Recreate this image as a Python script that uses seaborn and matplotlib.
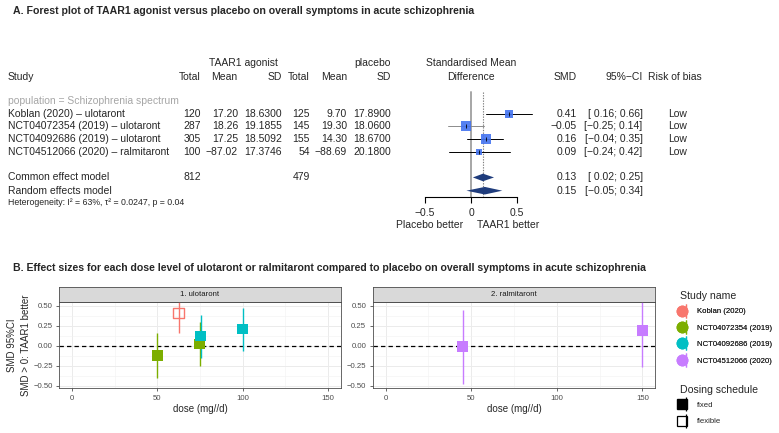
import numpy as np
import pandas as pd
import seaborn as sns
import matplotlib.pyplot as plt
import matplotlib.transforms as mtransforms
from matplotlib.lines import Line2D
from matplotlib.legend_handler import HandlerTuple

# ---------------- panel A: meta-analysis table ----------------
studies = ["Koblan (2020) \u2013 ulotaront", "NCT04072354 (2019) \u2013 ulotaront",
           "NCT04092686 (2019) \u2013 ulotaront", "NCT04512066 (2020) \u2013 ralmitaront"]
agonist_n = [120, 287, 305, 100]
agonist_mean = [17.20, 18.26, 17.25, -87.02]
agonist_sd = [18.6300, 19.1855, 18.5092, 17.3746]
placebo_n = [125, 145, 155, 54]
placebo_mean = [9.70, 19.30, 14.30, -88.69]
placebo_sd = [17.8900, 18.0600, 18.6700, 20.1800]
smd = [0.41, -0.05, 0.16, 0.09]
smd_lo = [0.16, -0.25, -0.04, -0.24]
smd_hi = [0.66, 0.14, 0.35, 0.42]
weight = [19.0, 33.5, 35.6, 11.9]
risk = ["Low", "Low", "Low", "Low"]

models = ["Common effect model", "Random effects model"]
model_smd = [0.13, 0.15]
model_lo = [0.02, -0.05]
model_hi = [0.25, 0.34]
total_agonist = 812
total_placebo = 479
heterogeneity = "Heterogeneity: I\u00b2 = 63%, \u03c4\u00b2 = 0.0247, p = 0.04"

# ---------------- panel B: dose levels ----------------
b_study = ["Koblan (2020)", "NCT04072354 (2019)", "NCT04072354 (2019)",
           "NCT04092686 (2019)", "NCT04092686 (2019)",
           "NCT04512066 (2020)", "NCT04512066 (2020)"]
b_drug = ["1. ulotaront"] * 5 + ["2. ralmitaront"] * 2
b_dose = [62.5, 50, 75, 75, 100, 45, 150]
b_smd = [0.41, -0.12, 0.02, 0.12, 0.21, -0.01, 0.19]
b_lo = [0.16, -0.40, -0.25, -0.15, -0.06, -0.48, -0.27]
b_hi = [0.66, 0.16, 0.30, 0.39, 0.48, 0.45, 0.65]
b_schedule = ["flexible", "fixed", "fixed", "fixed", "fixed", "fixed", "fixed"]

study_names = ["Koblan (2020)", "NCT04072354 (2019)", "NCT04092686 (2019)", "NCT04512066 (2020)"]
palette = dict(zip(study_names, ["#F8766D", "#7CAE00", "#00BFC4", "#C77CFF"]))
schedules = ["fixed", "flexible"]

W, H = 779, 433


def fig_box(x0, y0, x1, y1):
    # pixel box (top-left origin) -> figure rect
    return [x0 / W, 1 - y1 / H, (x1 - x0) / W, (y1 - y0) / H]


def fmt(v, spec):
    return format(v, spec).replace("-", "\u2212")


sns.set_style("white")
plt.rcParams['font.family'] = ['Liberation Sans', 'DejaVu Sans']

fig = plt.figure(figsize=(W / 100, H / 100), dpi=100)

# ================= A. forest plot =================
FS = 7.5
fig.text(13 / W, 1 - 11 / H, "A. Forest plot of TAAR1 agonist versus placebo on overall symptoms in acute schizophrenia",
         fontsize=7.6, fontweight='bold', va='center', ha='left')

ax_f = fig.add_axes(fig_box(400, 57, 545, 197))
ax_f.set_xlim(-0.772, 0.804)
ax_f.set_ylim(6.6, -4.5)
ax_f.patch.set_alpha(0)
for s in ['top', 'left', 'right']:
    ax_f.spines[s].set_visible(False)
ax_f.spines['bottom'].set_bounds(-0.5, 0.5)
ax_f.spines['bottom'].set_linewidth(0.8)
ax_f.spines['bottom'].set_color('black')
ax_f.set_yticks([])
ax_f.set_xticks([-0.5, 0, 0.5])
ax_f.set_xticklabels(["\u22120.5", "0", "0.5"])
ax_f.tick_params(axis='x', bottom=True, length=4, width=0.8, pad=4, labelsize=FS, color='black')

rows = np.arange(len(studies))
y_common, y_random = 5.05, 6.1

# reference lines
ax_f.plot([0, 0], [-1.7, 6.6], color='#A6A6A6', lw=1.4, zorder=1, clip_on=False)
ax_f.plot([model_smd[0]] * 2, [-1.7, 6.6], color='#7F7F7F', lw=0.8, ls=(0, (1.2, 1.2)), zorder=1, clip_on=False)

# CI lines
ci_colors = ['black', '#8C8C8C', 'black', 'black']
for r, lo, hi, c in zip(rows, smd_lo, smd_hi, ci_colors):
    ax_f.plot([lo, hi], [r, r], color=c, lw=0.7, zorder=2, clip_on=False)

sizes = [(1.75 * np.sqrt(w) * 0.72) ** 2 for w in weight]
ax_f.scatter(smd, rows, s=sizes, marker='s', color='#4473F0', edgecolor='none', alpha=0.9, zorder=3)
ax_f.scatter(smd, rows, s=5, marker='|', color='black', linewidths=0.6, zorder=4)

for y, est, lo, hi in zip([y_common, y_random], model_smd, model_lo, model_hi):
    ax_f.fill([lo, est, hi, est], [y, y - 0.3, y, y + 0.3], color='#1F3C7C', zorder=3, lw=0)

trans = mtransforms.blended_transform_factory(fig.transFigure, ax_f.transData)


def t(xpx, y, s, ha='right', **kw):
    kw.setdefault('fontsize', FS)
    fig.text(xpx / W, y, s, transform=trans, ha=ha, va='center', **kw)


# header
t(243, -4.0, "TAAR1 agonist", ha='center')
t(390.7, -4.0, "placebo")
t(470.7, -4.0, "Standardised Mean", ha='center')
t(8, -2.9, "Study", ha='left')
t(200.7, -2.9, "Total")
t(237.7, -2.9, "Mean")
t(281.7, -2.9, "SD")
t(310, -2.9, "Total")
t(347, -2.9, "Mean")
t(390.7, -2.9, "SD")
t(470.7, -2.9, "Difference", ha='center')
t(576.7, -2.9, "SMD")
t(642.7, -2.9, "95%\u2212CI")
t(647.7, -2.9, "Risk of bias", ha='left')

t(8, -1.0, "population = Schizophrenia spectrum", ha='left', color='#A6A6A6')

for r in rows:
    t(8, r, studies[r], ha='left')
    t(200.7, r, str(agonist_n[r]))
    t(238, r, fmt(agonist_mean[r], '.2f'))
    t(281.7, r, fmt(agonist_sd[r], '.4f'))
    t(310, r, str(placebo_n[r]))
    t(347, r, fmt(placebo_mean[r], '.2f'))
    t(390.7, r, fmt(placebo_sd[r], '.4f'))
    t(576.7, r, fmt(smd[r], '.2f'))
    t(642.7, r, "[" + fmt(smd_lo[r], '5.2f') + "; " + fmt(smd_hi[r], '.2f') + "]")
    t(668, r, risk[r], ha='left')

for y, name, est, lo, hi in zip([y_common, y_random], models, model_smd, model_lo, model_hi):
    t(8, y, name, ha='left')
    t(576.7, y, fmt(est, '.2f'))
    t(642.7, y, "[" + fmt(lo, '5.2f') + "; " + fmt(hi, '.2f') + "]")
t(200.7, y_common, str(total_agonist))
t(310, y_common, str(total_placebo))
t(8, 7.05, heterogeneity, ha='left', fontsize=6.3)

ax_f.text(-0.085, 8.82, "Placebo better", ha='right', va='center', fontsize=FS, clip_on=False)
ax_f.text(0.065, 8.82, "TAAR1 better", ha='left', va='center', fontsize=FS, clip_on=False)

# ================= B. dose plot =================
fig.text(13 / W, 1 - 268 / H,
         "B. Effect sizes for each dose level of ulotaront or ralmitaront compared to placebo on overall symptoms in acute schizophrenia",
         fontsize=7.6, fontweight='bold', va='center', ha='left')

df = pd.DataFrame({"study": b_study, "drug": b_drug, "dose": b_dose, "smd": b_smd,
                   "lo": b_lo, "hi": b_hi, "schedule": b_schedule})
# small dodge for studies sharing a dose inside a panel
dup = df.duplicated(["drug", "dose"], keep=False)
df["x"] = df["dose"] + np.where(dup, np.where(df.groupby(["drug", "dose"]).cumcount() == 0, -0.2, 0.4), 0.0)

panels = [("1. ulotaront", 59.3, 340.7), ("2. ralmitaront", 372.7, 655.3)]
for drug, x0, x1 in panels:
    ax = fig.add_axes(fig_box(x0, 302.3, x1, 388))
    sub = df[df["drug"] == drug]
    ax.set_xlim(-7.5, 157.5)
    ax.set_ylim(-0.529, 0.546)
    ax.set_xticks([0, 50, 100, 150])
    ax.set_xticks([25, 75, 125], minor=True)
    ax.set_yticks([-0.5, -0.25, 0, 0.25, 0.5])
    ax.set_yticks([-0.375, -0.125, 0.125, 0.375], minor=True)
    ax.set_yticklabels(["\u22120.50", "\u22120.25", "0.00", "0.25", "0.50"])
    ax.grid(which='major', color='#EBEBEB', lw=0.7)
    ax.grid(which='minor', color='#F2F2F2', lw=0.4)
    ax.set_axisbelow(True)
    for s in ax.spines.values():
        s.set_color('#4D4D4D')
        s.set_linewidth(0.6)
    ax.tick_params(which='major', length=2.2, width=0.6, color='#4D4D4D', labelcolor='#4D4D4D',
                   labelsize=5.6, pad=2.5, bottom=True, left=True)
    ax.tick_params(which='minor', length=0)
    ax.axhline(0, color='black', lw=0.9, ls=(0, (3.5, 2.5)), zorder=2)

    for _, row in sub.iterrows():
        ax.vlines(row["x"], row["lo"], row["hi"], color=palette[row["study"]], lw=1.0, zorder=3)
    fixed = sub[sub["schedule"] == "fixed"]
    sns.scatterplot(data=fixed, x="x", y="smd", hue="study", palette=palette, marker='s',
                    s=56, edgecolor='none', legend=False, ax=ax, zorder=4)
    flex = sub[sub["schedule"] == "flexible"]
    if len(flex):
        ax.scatter(flex["x"], flex["smd"], marker='s', s=56, facecolors='none',
                   edgecolors=[palette[s] for s in flex["study"]], linewidths=1.0, zorder=4)
    ax.set_xlabel("dose (mg//d)", fontsize=7, labelpad=1.5)
    ax.set_ylabel("")

    strip = fig.add_axes(fig_box(x0, 287.3, x1, 302.3))
    strip.set_facecolor('#D9D9D9')
    strip.set_xticks([])
    strip.set_yticks([])
    for s in strip.spines.values():
        s.set_color('#4D4D4D')
        s.set_linewidth(0.6)
    strip.text(0.5, 0.5, drug, ha='center', va='center', fontsize=5.6, color='#1A1A1A',
               transform=strip.transAxes)

fig.text(19 / W, 1 - 345 / H, "SMD 95%CI\nSMD > 0: TAAR1 better", rotation=90, ha='center', va='center',
         fontsize=7, linespacing=1.5, multialignment='center')

# legends (titles drawn as plain text so the title gap matches ggplot)
leg_kw = dict(loc='upper left', frameon=False, fontsize=5.6, handlelength=1.0, handletextpad=1.15,
              labelspacing=1.15, borderpad=0, borderaxespad=0,
              handler_map={tuple: HandlerTuple(ndivide=None)})

fig.text(680.5 / W, 1 - 296 / H, "Study name", fontsize=7.6, ha='left', va='center')
study_handles = [(Line2D([], [], marker='o', ls='', color=palette[n], markersize=7.5),
                  Line2D([], [], marker='|', ls='', color=palette[n], markersize=10, mew=0.9))
                 for n in study_names]
leg1 = fig.legend(study_handles, study_names, bbox_to_anchor=(680 / W, 1 - 308 / H), **leg_kw)

fig.text(680.5 / W, 1 - 390 / H, "Dosing schedule", fontsize=7.6, ha='left', va='center')
sched_handles = [(Line2D([], [], marker='s', ls='', color='black', markersize=6.5),
                  Line2D([], [], marker='|', ls='', color='black', markersize=10, mew=0.9)),
                 (Line2D([], [], marker='s', ls='', mfc='none', mec='black', markersize=6.5, mew=0.9),
                  Line2D([], [], marker='|', ls='', color='black', markersize=10, mew=0.9))]
leg2 = fig.legend(sched_handles, schedules, bbox_to_anchor=(680 / W, 1 - 401.5 / H), **leg_kw)
fig.add_artist(leg1)

fig.savefig("out.png", dpi=100)
